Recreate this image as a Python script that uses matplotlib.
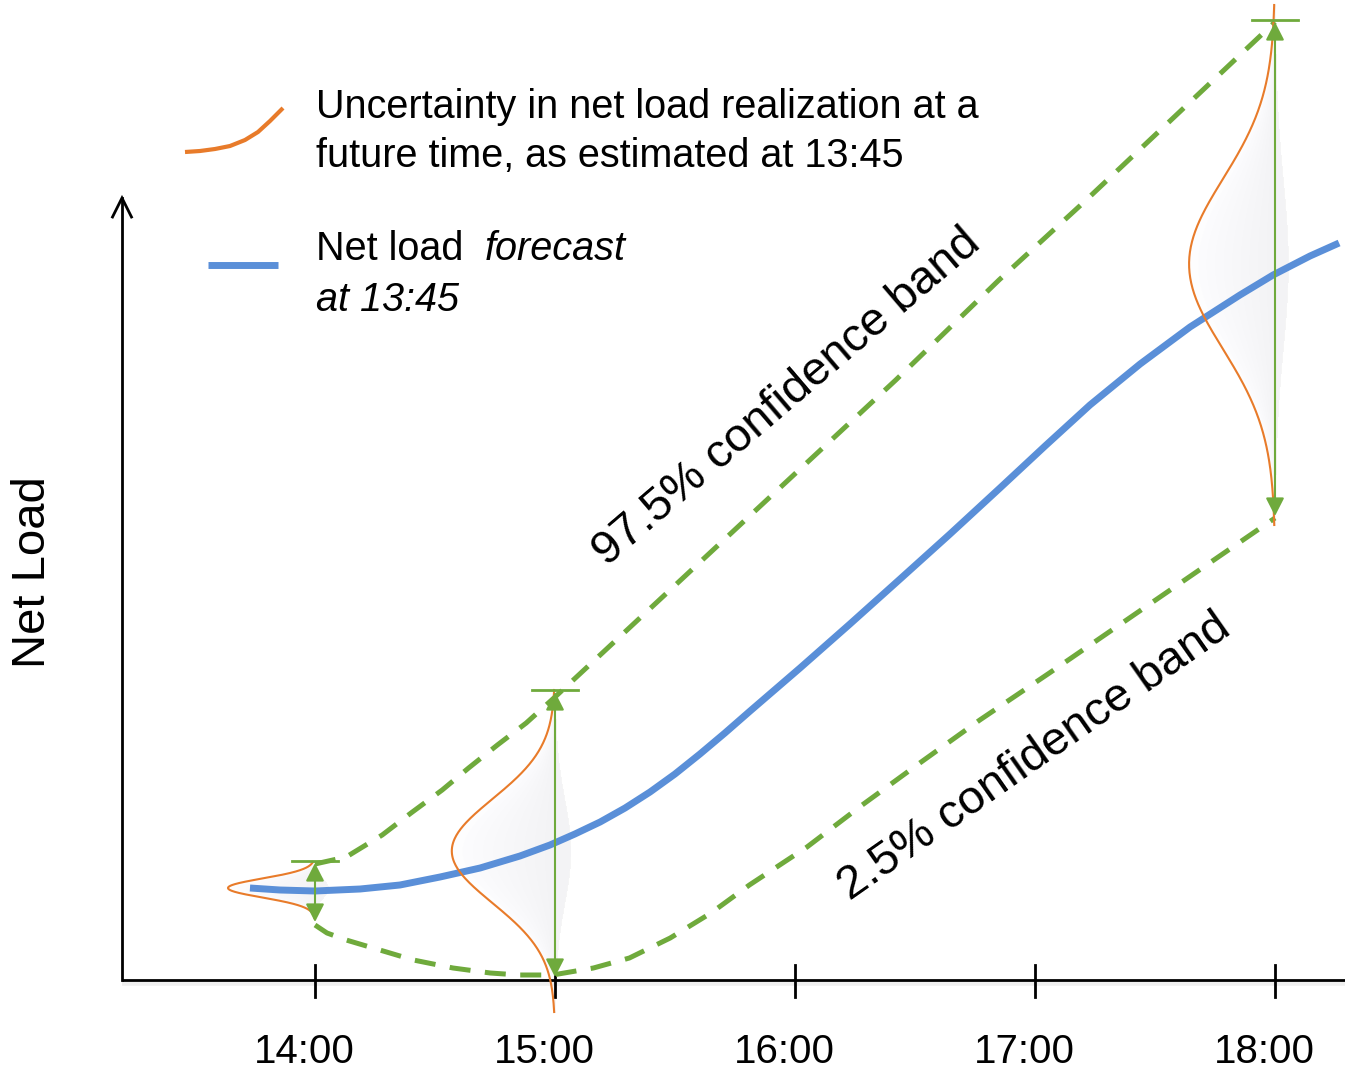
import numpy as np
import matplotlib
matplotlib.use("Agg")
import matplotlib.pyplot as plt
import matplotlib.transforms as mtransforms

# ---------------- data ----------------
# time in hours, net load in arbitrary units (0 = x axis)
tick_hours = [14, 15, 16, 17, 18]
tick_labels = ["14:00", "15:00", "16:00", "17:00", "18:00"]

forecast_t = [13.729, 13.854, 14.0, 14.188, 14.354, 14.521, 14.688, 14.854, 14.979, 15.083,
              15.188, 15.292, 15.396, 15.5, 15.604, 15.708, 15.813, 16.021, 16.229, 16.438,
              16.646, 16.854, 17.042, 17.229, 17.438, 17.646, 17.854, 17.992, 18.146, 18.267]
forecast_y = [92, 90, 89, 91, 95, 103, 112, 124, 135, 146,
              158, 172, 188, 206, 226, 247, 269, 312, 356, 401,
              446, 492, 534, 575, 616, 653, 685, 705, 724, 737]

upper_t = [14.0, 14.13, 14.28, 14.4, 14.53, 14.64, 14.76, 14.88, 15.0, 16.42, 16.85, 17.2, 18.0]
upper_y = [116, 123, 145, 167, 190, 212, 235, 257, 283, 600, 700, 777, 958]

lower_t = [14.0, 14.05, 14.13, 14.27, 14.41, 14.575, 14.73, 14.85, 14.99, 15.16,
           15.31, 15.48, 15.65, 15.81, 16.05, 16.28, 16.52, 16.77, 17.06, 18.0]
lower_y = [55, 47, 40, 30, 20, 12, 7, 5, 5, 12,
           22, 42, 67, 95, 133, 175, 217, 260, 307, 462]

# uncertainty distributions (estimated at 13:45)
dist_t = [14.0, 15.0, 18.0]          # time of distribution
dist_center = [92, 129, 716]         # centre of distribution
dist_sigma = [9.5, 52, 85]           # spread
dist_peak = [0.3625, 0.43, 0.358]    # drawn peak width (hours)
dist_lo = [62, -32, 455]             # drawn range
dist_hi = [118, 290, 975]
arrow_lo = [58, 3, 464]              # 2.5% value
arrow_hi = [117, 288, 958]           # 97.5% value

# ---------------- style ----------------
BLUE = "#5A8FD8"
ORANGE = "#E87B2A"
GREEN = "#6FAA3C"
FONT = "Liberation Sans"
plt.rcParams["font.family"] = [FONT, "DejaVu Sans"]

W, H = 1345, 1073
fig = plt.figure(figsize=(W / 100, H / 100), dpi=100)
ax = fig.add_axes([0, 0, 1, 1])
PX = 1 / 240.0  # hours per pixel
x0 = 14 - 315 * PX
ax.set_xlim(x0, x0 + W * PX)
ax.set_ylim(980 - H, 980)
ax.axis("off")


def fx(px):
    return px / W


def fy(py):
    return 1 - py / H


# axes
yaxis_x = x0 + 122 * PX
shadow = ax.transData + mtransforms.ScaledTranslation(0, -3 / 100, fig.dpi_scale_trans)
ax.plot([yaxis_x, x0 + W * PX], [0, 0], color="#d8d8d8", lw=4, alpha=0.4, zorder=1,
        solid_capstyle="butt", transform=shadow)
ax.plot([yaxis_x, x0 + W * PX], [0, 0], color="black", lw=2, zorder=3, solid_capstyle="butt")
ax.plot([yaxis_x, yaxis_x], [0, 782], color="black", lw=2, zorder=3)
ax.plot([yaxis_x - 9.5 * PX, yaxis_x, yaxis_x + 9.5 * PX], [763, 782, 763], color="black",
        lw=2, zorder=3, solid_joinstyle="miter")
for t, lab in zip(tick_hours, tick_labels):
    ax.plot([t, t], [-17, 15], color="black", lw=2, zorder=3)
    ax.text(t - 11 * PX, -83, lab, ha="center", va="baseline", fontsize=29, family=FONT)

ax.text(fx(33), fy(572), "Net Load", transform=fig.transFigure, rotation=90,
        ha="center", va="center", fontsize=34, family=FONT)

# confidence bands
ax.plot(upper_t, upper_y, color=GREEN, lw=3.6, dashes=(4.2, 2.9), zorder=4)
ax.plot(lower_t, lower_y, color=GREEN, lw=3.6, dashes=(4.2, 2.9), zorder=4)

# forecast
ax.plot(forecast_t, forecast_y, color=BLUE, lw=5, zorder=5, solid_capstyle="butt",
        solid_joinstyle="round")

# distributions
for t, c, s, a, lo, hi, alo, ahi in zip(dist_t, dist_center, dist_sigma, dist_peak,
                                        dist_lo, dist_hi, arrow_lo, arrow_hi):
    ys = np.linspace(lo, hi, 300)
    g = np.exp(-0.5 * ((ys - c) / s) ** 2)
    xs = t - a * g
    for k in np.linspace(0.0, 0.9, 10):
        ax.fill_betweenx(ys, xs + a * k * g, t + a * 0.15 * g, color="#c8c8d2",
                         alpha=0.02, lw=0, zorder=2)
    ax.plot(xs, ys, color=ORANGE, lw=1.5, zorder=6)
    ax.annotate("", xy=(t, ahi), xytext=(t, alo),
                arrowprops=dict(arrowstyle="<|-|>,head_length=0.55,head_width=0.28",
                                color=GREEN, lw=1.5, mutation_scale=20,
                                shrinkA=0, shrinkB=0), zorder=7)
    ax.plot([t - 23 * PX, t + 23 * PX], [ahi + 2, ahi + 2], color=GREEN, lw=2, zorder=7)

# band labels
ax.text(fx(787), fy(398), "97.5% confidence band", transform=fig.transFigure, rotation=40.5,
        rotation_mode="anchor", ha="center", va="center", fontsize=34, family=FONT)
ax.text(fx(1035), fy(757), "2.5% confidence band", transform=fig.transFigure, rotation=35,
        rotation_mode="anchor", ha="center", va="center", fontsize=34, family=FONT)

# legend glyphs (layout, figure pixels)
gx = np.array([185, 200, 215, 230, 245, 258, 270, 283])
gy = np.array([152, 151, 149, 146, 140, 132, 121, 108])
fig.add_artist(plt.Line2D(fx(gx), fy(gy), color=ORANGE, lw=3, solid_capstyle="butt",
                          solid_joinstyle="round"))
fig.add_artist(plt.Line2D([fx(208), fx(278)], [fy(265), fy(265)], color=BLUE, lw=5,
                          solid_capstyle="butt"))

fig.text(fx(316), fy(118), "Uncertainty in net load realization at a", fontsize=28.5,
         ha="left", va="baseline", family=FONT)
fig.text(fx(316), fy(167), "future time, as estimated at 13:45", fontsize=28.5,
         ha="left", va="baseline", family=FONT)
fig.text(fx(316), fy(260), "Net load", fontsize=28.5, ha="left", va="baseline", family=FONT)
fig.text(fx(485), fy(260), "forecast", fontsize=28.5, ha="left", va="baseline", family=FONT,
         style="italic")
fig.text(fx(316), fy(311), "at 13:45", fontsize=28.5, ha="left", va="baseline", family=FONT,
         style="italic")

fig.savefig("out.png", dpi=100, facecolor="white")
